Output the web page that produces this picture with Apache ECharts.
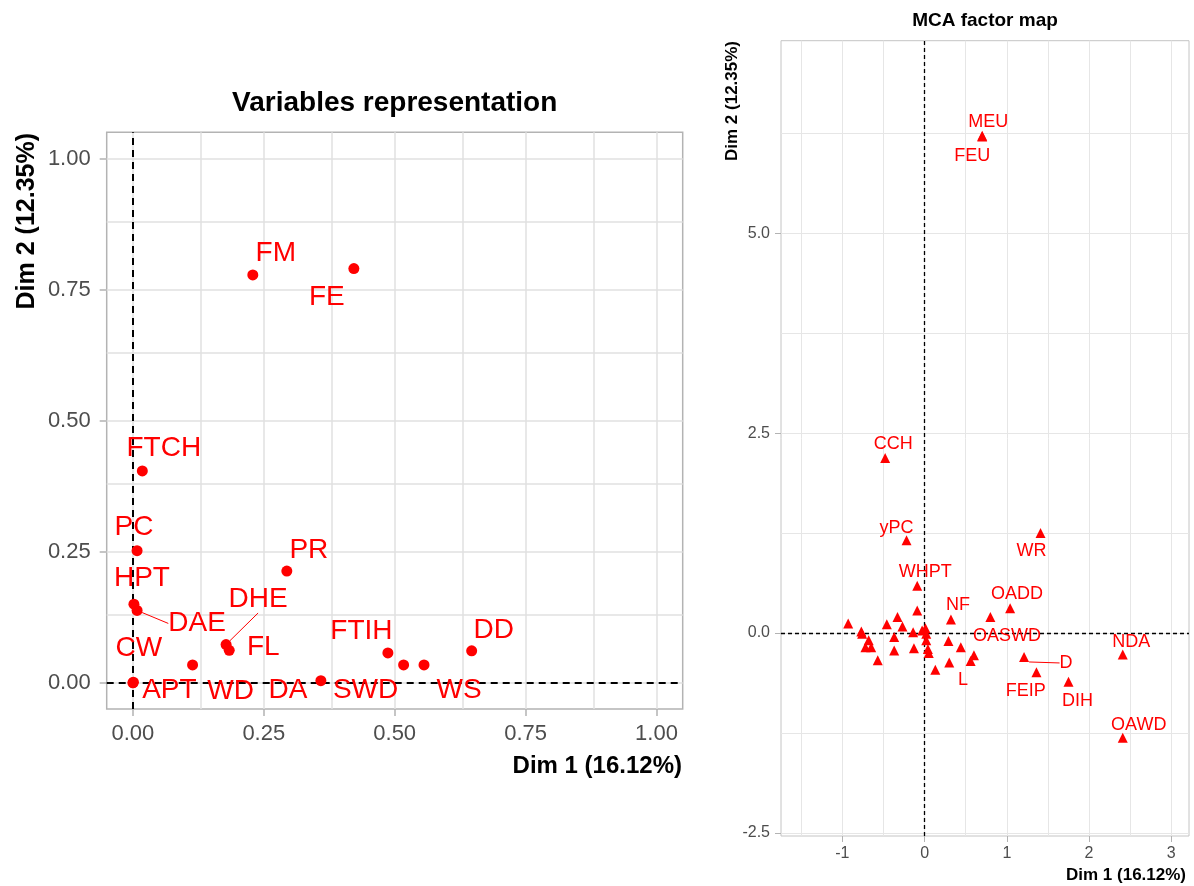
<!DOCTYPE html>
<html><head><meta charset="utf-8">
<script src="https://cdn.jsdelivr.net/npm/echarts@6/dist/echarts.min.js"></script>
<style>html,body{margin:0;padding:0;background:#fff}#c{width:1194px;height:886px}</style>
</head><body><div id="c"></div>
<script>
// ---------- data: left panel (variables representation) ----------
const varNames = ['FM','FE','FTCH','PC','HPT','DAE','DHE','FL','PR','CW','APT','WD','DA','FTIH','SWD','WS','DD'];
const varDim1  = [0.229,0.422,0.018,0.008,0.002,0.008,0.178,0.184,0.294,0.000,0.001,0.114,0.359,0.487,0.517,0.556,0.647];
const varDim2  = [0.778,0.790,0.404,0.252,0.150,0.138,0.073,0.062,0.213,0.000,0.001,0.034,0.004,0.057,0.034,0.034,0.061];
const leftTicks = [0, 0.25, 0.5, 0.75, 1];

// ---------- data: right panel (MCA factor map, categories) ----------
const catNames = ['MEU','FEU','CCH','yPC','WR','WHPT','NF','OADD','OASWD','NDA','D','FEIP','DIH','OAWD','L'];
const catDim1  = [0.70,0.70,-0.48,-0.22,1.41,-0.09,0.32,1.04,0.80,2.41,1.21,1.36,1.75,2.41,0.56];
const catDim2  = [6.22,6.21,2.19,1.16,1.25,0.59,0.17,0.31,0.20,-0.27,-0.30,-0.49,-0.61,-1.31,-0.35];
// categories whose labels are hidden (overlapping)
const otherDim1 = [-0.09,-0.93,-0.33,-0.46,-0.27,-0.77,-0.76,-0.68,-0.37,-0.14,-0.03,0.01,0.02,0.02,0.29,-0.72,-0.65,-0.37,-0.13,0.04,0.05,-0.57,0.13,0.30,0.44,0.60];
const otherDim2 = [0.28,0.12,0.20,0.11,0.08,0.02,-0.01,-0.09,-0.05,0.01,0.03,0.06,-0.01,-0.09,-0.10,-0.18,-0.18,-0.22,-0.19,-0.20,-0.25,-0.34,-0.46,-0.37,-0.18,-0.28];
const rightXTicks = [-1, 0, 1, 2, 3];
const rightYTicks = [-2.5, 0, 2.5, 5];

// ---------- label placement (repel-like offsets, px) ----------
const leftOffsets = {FM:[23,-22],FE:[-27,29],FTCH:[21.5,-23],PC:[-3,-23],HPT:[8,-25.5],DAE:[60,13],DHE:[32,-45.5],
  FL:[34,-3],PR:[22,-21],CW:[6,-35],APT:[36,8],WD:[38,26],DA:[-33,10],FTIH:[-26.5,-22],SWD:[-38,25],WS:[35,25],DD:[22,-20.5]};
const rightOffsets = {MEU:[6,-14],FEU:[-10,19],CCH:[8,-13.5],yPC:[-10,-12.5],WR:[-9,18],WHPT:[8,-13.5],NF:[7,-14.6],
  OADD:[7,-14],OASWD:[16.7,19.3],NDA:[8.5,-13],D:[42,6],FEIP:[-10.7,19],DIH:[9,19],OAWD:[16,-12.7],L:[-7.7,19.3]};
const withLeader = ['DAE','DHE','D'];

const FONT = '"Liberation Sans", Arial, Helvetica, sans-serif';
const RED = '#ff0000';

function gridMarks(xs, ys, color, width, type) {
  const ls = {color: color, width: width, type: type};
  return xs.map(v => ({xAxis: v, lineStyle: ls})).concat(ys.map(v => ({yAxis: v, lineStyle: ls})));
}
function steps(a, b, s) { const r = []; for (let i = 0; a + i * s <= b + 1e-9; i++) r.push(+(a + i * s).toFixed(4)); return r; }
function markSeries(xi, marks, z) {
  return {type: 'line', xAxisIndex: xi, yAxisIndex: xi, data: [], z: z, silent: true,
    markLine: {z: z, silent: true, symbol: ['none','none'], label: {show: false}, animation: false, data: marks}};
}
function items(names, d1, d2) {
  return names.map((n, i) => {
    const it = {name: n, value: [d1[i], d2[i]]};
    if (withLeader.includes(n)) it.labelLine = {show: true, lineStyle: {color: RED, width: 1, opacity: 1}};
    return it;
  });
}
function labelStyle(size) {
  return {show: true, position: 'inside', formatter: '{b}', color: RED, fontSize: size, fontFamily: FONT,
    textBorderWidth: 0, textBorderColor: 'transparent', textShadowBlur: 0, opacity: 1};
}

const leftGridVals = steps(0, 1, 0.125);
const rightXGrid = steps(-1.5, 3, 0.5);
const rightYGrid = steps(-2.5, 6.25, 1.25);

const option = {
  animation: false,
  backgroundColor: '#ffffff',
  textStyle: {fontFamily: FONT},
  grid: [
    {left: 106.7, top: 132.3, width: 576, height: 576.7, show: true, borderColor: '#b3b3b3', borderWidth: 1.5, backgroundColor: '#fff'},
    {left: 781, top: 40.7, width: 408, height: 795.3, show: true, borderColor: '#c4c4c4', borderWidth: 1, backgroundColor: '#fff'}
  ],
  xAxis: [
    {type: 'value', gridIndex: 0, min: -0.05, max: 1.05, splitLine: {show: false},
     axisLine: {show: false, onZero: false},
     axisTick: {show: true, length: 7, lineStyle: {color: '#b3b3b3', width: 1.5}, customValues: leftTicks},
     axisLabel: {customValues: leftTicks, formatter: v => v.toFixed(2), color: '#4d4d4d', fontSize: 22, margin: 14, fontFamily: FONT}},
    {type: 'value', gridIndex: 1, min: -1.747, max: 3.216, splitLine: {show: false},
     axisLine: {show: false, onZero: false},
     axisTick: {show: true, length: 6, lineStyle: {color: '#b3b3b3', width: 1}, customValues: rightXTicks},
     axisLabel: {customValues: rightXTicks, formatter: v => String(v), color: '#4d4d4d', fontSize: 16, margin: 10, fontFamily: FONT}}
  ],
  yAxis: [
    {type: 'value', gridIndex: 0, min: -0.05, max: 1.05, splitLine: {show: false},
     axisLine: {show: false, onZero: false},
     axisTick: {show: true, length: 7, lineStyle: {color: '#b3b3b3', width: 1.5}, customValues: leftTicks},
     axisLabel: {customValues: leftTicks, formatter: v => v.toFixed(2), color: '#4d4d4d', fontSize: 22, margin: 16, fontFamily: FONT}},
    {type: 'value', gridIndex: 1, min: -2.54, max: 7.41, splitLine: {show: false},
     axisLine: {show: false, onZero: false},
     axisTick: {show: true, length: 6, lineStyle: {color: '#b3b3b3', width: 1}, customValues: rightYTicks},
     axisLabel: {customValues: rightYTicks, formatter: v => v.toFixed(1), color: '#4d4d4d', fontSize: 16, margin: 11, fontFamily: FONT}}
  ],
  series: [
    markSeries(0, gridMarks(leftGridVals, leftGridVals, '#e0e0e0', 1.5, 'solid'), 1),
    markSeries(0, gridMarks([0], [0], '#000000', 2, [7, 5]), 2),
    {type: 'scatter', xAxisIndex: 0, yAxisIndex: 0, z: 10, symbol: 'circle', symbolSize: 11,
     itemStyle: {color: RED, opacity: 1},
     emphasis: {disabled: true},
     data: items(varNames, varDim1, varDim2),
     label: labelStyle(28),
     labelLine: {show: false},
     labelLayout: p => { const o = leftOffsets[varNames[p.dataIndex]]; return {dx: o[0], dy: o[1]}; }},

    markSeries(1, gridMarks(rightXGrid, rightYGrid, '#e6e6e6', 1, 'solid'), 1),
    markSeries(1, gridMarks([0], [0], '#000000', 1.3, [4, 3]), 2),
    {type: 'scatter', xAxisIndex: 1, yAxisIndex: 1, z: 10, symbol: 'triangle', symbolSize: 10,
     itemStyle: {color: RED, opacity: 1},
     emphasis: {disabled: true},
     data: otherDim1.map((x, i) => [x, otherDim2[i]]),
     label: {show: false}},
    {type: 'scatter', xAxisIndex: 1, yAxisIndex: 1, z: 11, symbol: 'triangle', symbolSize: 10,
     itemStyle: {color: RED, opacity: 1},
     emphasis: {disabled: true},
     data: items(catNames, catDim1, catDim2),
     label: labelStyle(18),
     labelLine: {show: false},
     labelLayout: p => { const o = rightOffsets[catNames[p.dataIndex]]; return {dx: o[0], dy: o[1]}; }}
  ],
  graphic: [
    {type: 'text', x: 394.7, y: 103, style: {text: 'Variables representation', font: 'bold 28px ' + FONT, fill: '#000', textAlign: 'center', textVerticalAlign: 'middle'}},
    {type: 'text', x: 27.5, y: 133, rotation: Math.PI / 2, style: {text: 'Dim 2 (12.35%)', font: 'bold 25px ' + FONT, fill: '#000', textAlign: 'right', textVerticalAlign: 'middle'}},
    {type: 'text', x: 682, y: 766, style: {text: 'Dim 1 (16.12%)', font: 'bold 24px ' + FONT, fill: '#000', textAlign: 'right', textVerticalAlign: 'middle'}},
    {type: 'text', x: 985, y: 21, style: {text: 'MCA factor map', font: 'bold 19px ' + FONT, fill: '#000', textAlign: 'center', textVerticalAlign: 'middle'}},
    {type: 'text', x: 732, y: 41, rotation: Math.PI / 2, style: {text: 'Dim 2 (12.35%)', font: 'bold 17px ' + FONT, fill: '#000', textAlign: 'right', textVerticalAlign: 'middle'}},
    {type: 'text', x: 1186, y: 875, style: {text: 'Dim 1 (16.12%)', font: 'bold 17px ' + FONT, fill: '#000', textAlign: 'right', textVerticalAlign: 'middle'}}
  ]
};

const chart = echarts.init(document.getElementById('c'));
chart.setOption(option);
</script>
</body></html>
